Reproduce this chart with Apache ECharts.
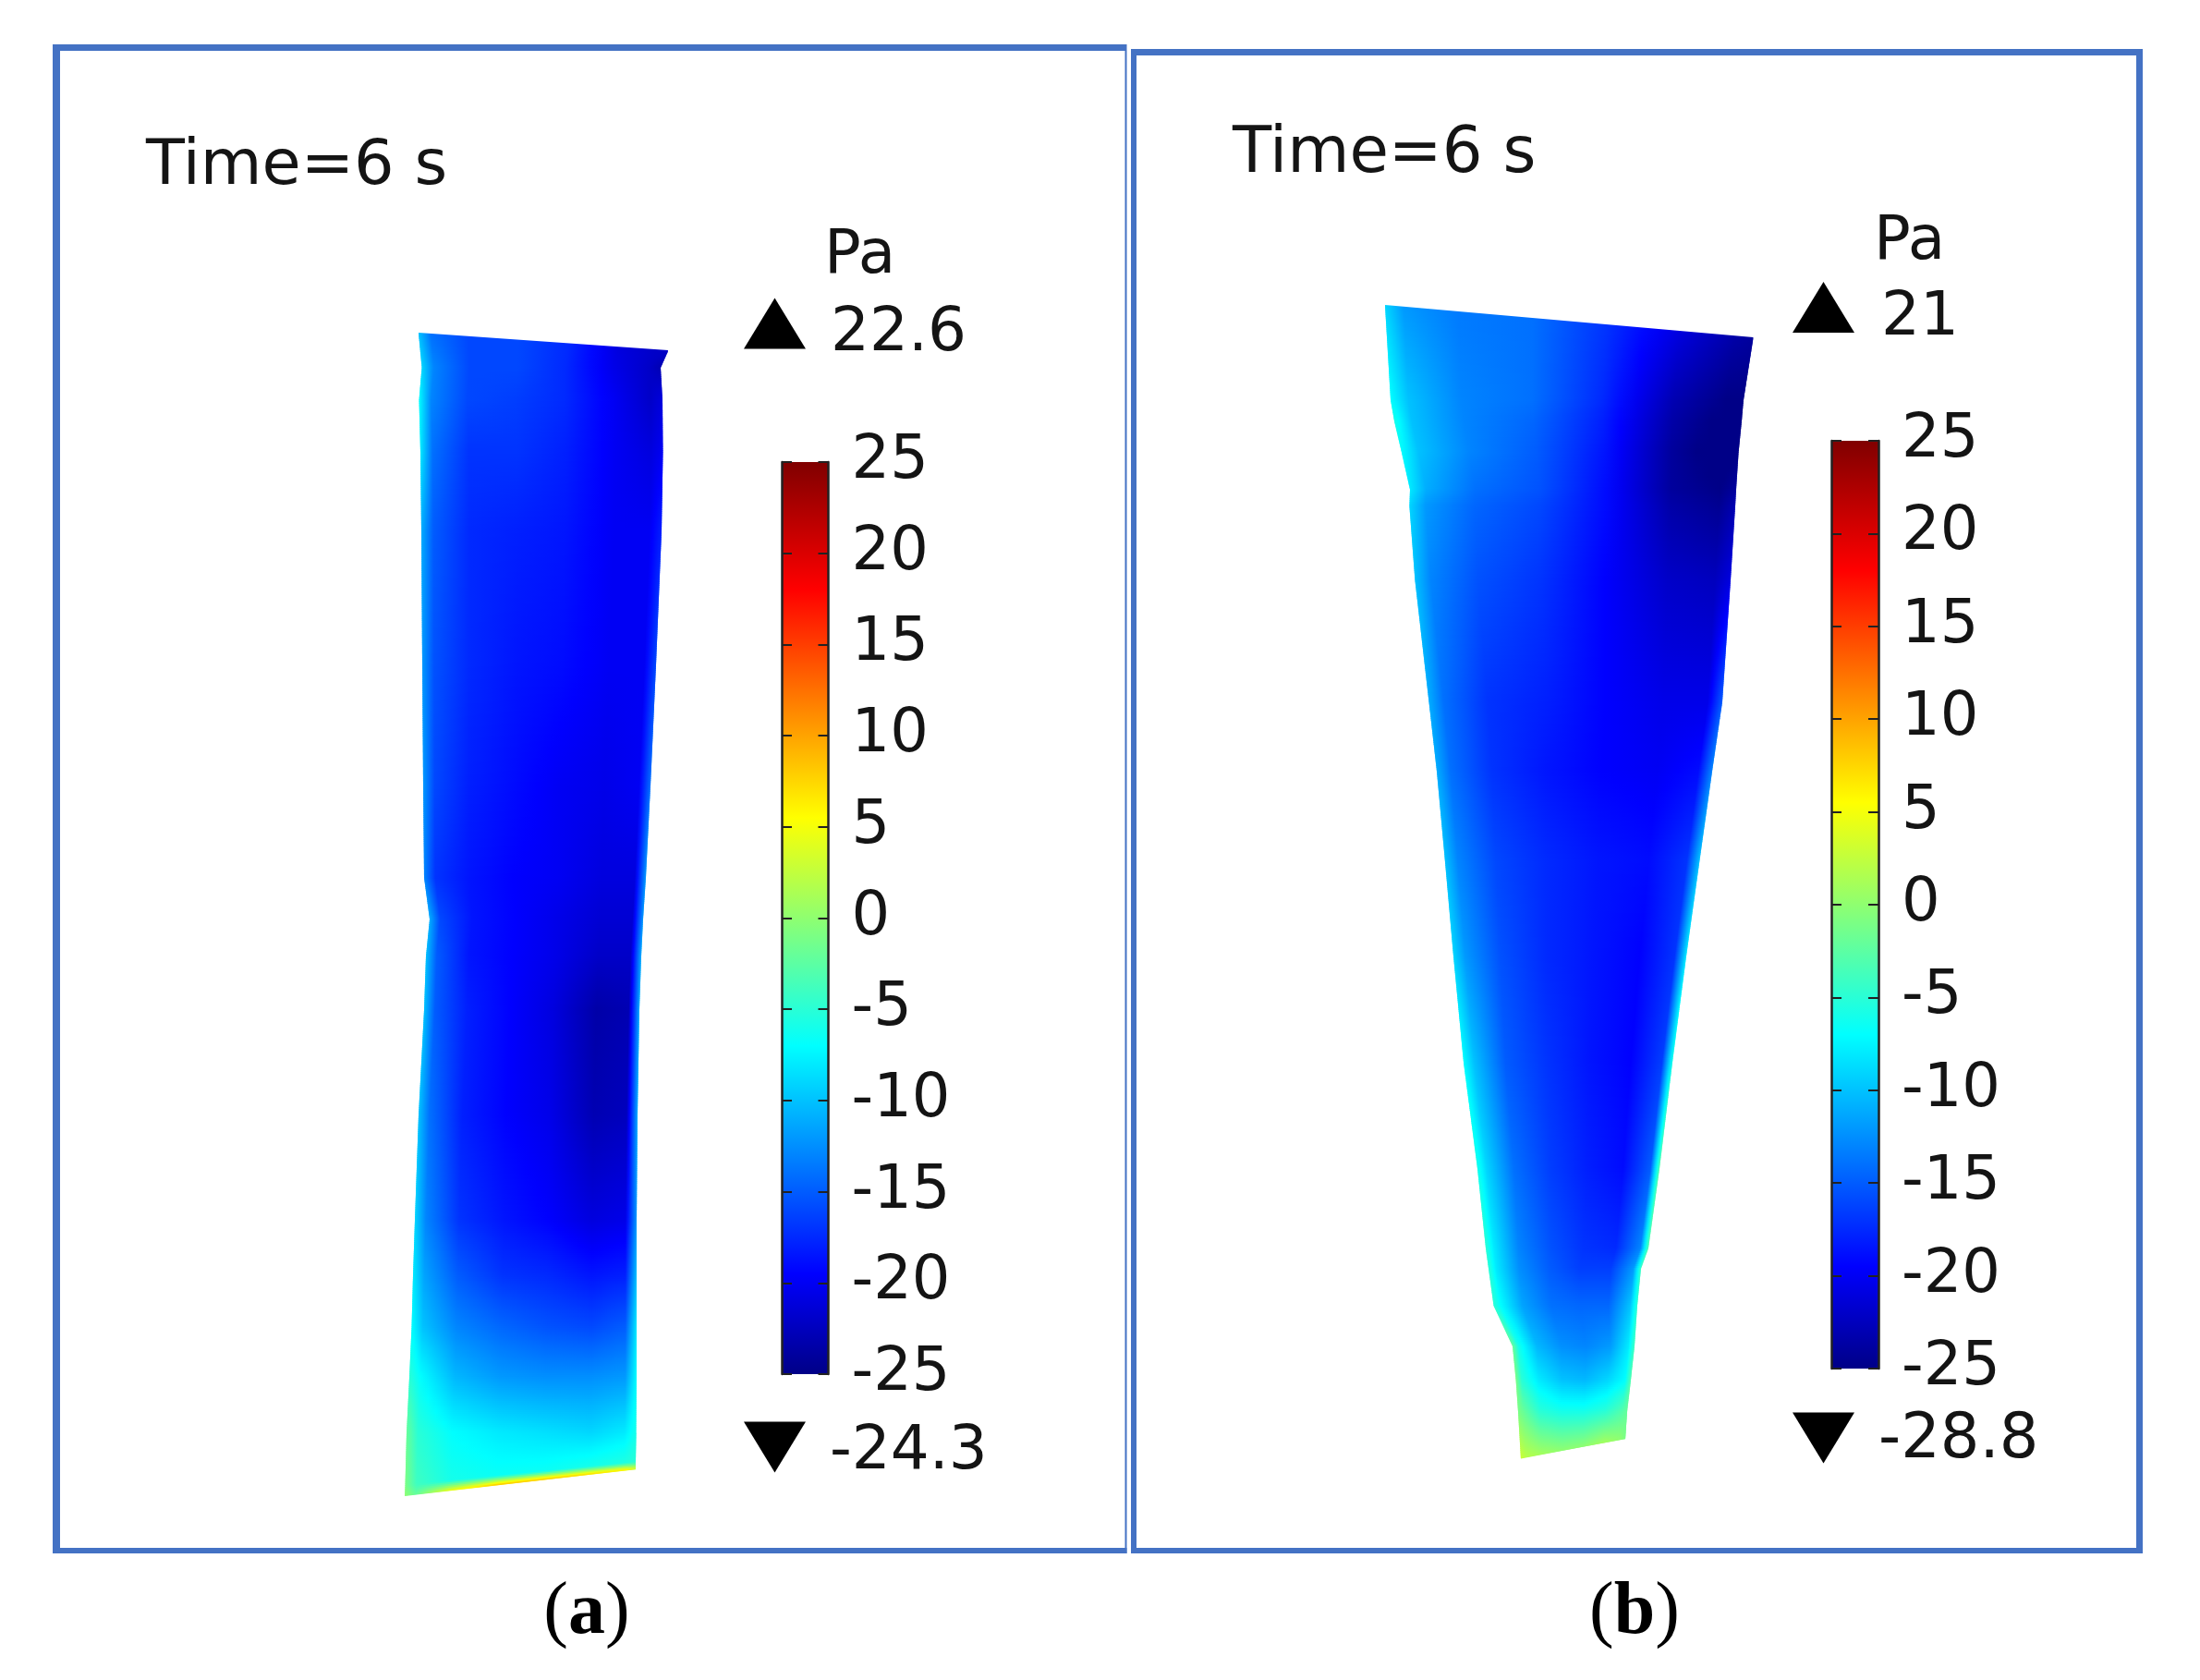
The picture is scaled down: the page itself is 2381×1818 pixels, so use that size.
<!DOCTYPE html>
<html>
<head>
<meta charset="utf-8">
<style>html,body{margin:0;padding:0;background:#fff}#c{width:2381px;height:1818px}</style>
<script src="https://cdn.jsdelivr.net/npm/echarts@6/dist/echarts.min.js"></script>
</head>
<body>
<div id="c"></div>
<script>
// ---------- DATA ----------
const colorbarTicks = [-25, -20, -15, -10, -5, 0, 5, 10, 15, 20, 25];
const timeLabel = 'Time=6 s';
const unitLabel = 'Pa';
const maxLabelA = '22.6', minLabelA = '-24.3';
const maxLabelB = '21', minLabelB = '-28.8';

// Rainbow colour table of the pressure scale: Pa, r, g, b
const rainbowPa = [-25, -19.5, -7, 5.5, 18, 25];
const rainbowRgb = [[0,0,135],[0,0,255],[0,255,255],[255,255,0],[255,0,0],[128,0,0]];

// Where the sampled values sit across each section of the surface (0 = left edge, 1 = right edge)
const acrossFractions = [0, .05, .2, .4, .6, .8, .95, 1];

// Surface (a): section outline as [left y, left x, right y, right x]
const surfaceAEdges = [
  [360,453,379,723],[397,456.5,397,715],[432,453.5,432,717],[489,455,489,717.5],[575,456,575,716],
  [719,457,719,710],[850,458,850,704],[949,459,949,699],[994,465,994,696],[1034,461,1034,694],
  [1092,459,1092,692],[1206,453,1206,690],[1320,449,1320,689],[1380,447,1380,689],[1435,445.5,1435,689],
  [1490,443,1490,689],[1550,440,1550,688.5],[1607,438.5,1582,688],[1619,438,1590,688]
];
// Surface (a): pressure in Pa at acrossFractions, one row per section
const surfaceAValues = [
  [-10,-14,-16,-16,-17.5,-21,-22,-22],
  [-9,-13,-16,-16,-17.5,-20.5,-22,-23],
  [-7,-13,-16,-16.5,-17.5,-20,-22,-21],
  [-8,-14,-17,-17,-18,-20,-21,-20],
  [-11,-15,-17.5,-18,-18.5,-20,-20,-18],
  [-12,-15.5,-17.5,-18.5,-19,-20,-20,-16],
  [-12,-16,-18,-19,-20,-20.5,-20,-14],
  [-13,-17,-18.5,-19.5,-20,-21,-21,-12],
  [-11,-16,-18.5,-19.5,-20.5,-21.5,-21.5,-12],
  [-10,-15,-18.5,-19.5,-20.5,-22,-22,-11],
  [-10,-15,-18,-19.5,-21,-23.5,-23,-11],
  [-10,-14,-18,-19.5,-20.5,-23,-22.5,-11],
  [-9,-13,-17,-18.5,-19.5,-21,-20.5,-12],
  [-8,-11.5,-15,-17,-17.5,-18.5,-18,-10],
  [-7,-10,-13,-14.5,-15.5,-16,-15,-8],
  [-5,-7,-10.5,-12,-12.5,-12.5,-12,-7],
  [-2,-5,-7,-8,-8.5,-9,-8,-6],
  [-1,-4,-6,-6.5,-6.5,-6,-5.5,-5],
  [0,-2,5,9,9,8,7,4]
];

// Surface (b)
const surfaceBEdges = [
  [330,1499,365,1897.5],[432,1505,432,1887],[455,1509,455,1885],[489,1517,489,1881.6],[529,1526,529,1879],
  [547,1525.4,547,1878],[627,1531.4,627,1873],[759,1546.5,759,1864],[834,1555,834,1853],[930,1563.8,930,1839.5],
  [1034,1573,1034,1825],[1149,1584,1149,1810],[1264,1599,1264,1796],[1350,1608,1350,1784],[1372,1611,1372,1776],
  [1412,1616.5,1412,1772],[1456,1637,1456,1769],[1493,1640.6,1493,1765],[1527,1643,1527,1761],[1578.6,1646,1557,1759]
];
const surfaceBValues = [
  [-9,-12,-13.5,-14,-17,-21,-23.5,-24],
  [-7,-10,-13,-14,-17.5,-23,-25,-25],
  [-6,-10,-13,-14.5,-18,-23.5,-25.5,-26],
  [-7,-10,-13,-15,-18.5,-24,-26,-25],
  [-8,-11,-14,-15.5,-19,-24,-25,-24],
  [-9,-12,-14.5,-16,-19,-23.5,-24.5,-23],
  [-10,-13,-15.5,-17,-19.5,-22,-22.5,-21],
  [-11,-14,-17,-18,-19.5,-20.5,-20.5,-15],
  [-11,-14,-17,-18.5,-19.5,-20,-19,-13],
  [-10,-13,-16,-17.5,-18.5,-19,-17,-10],
  [-9,-12,-15.5,-17.5,-18.5,-19.5,-17,-8],
  [-7,-10,-15,-17,-18.5,-19.5,-16.5,-6],
  [-6,-9,-14,-16.5,-18,-19,-15,-3],
  [-5,-8,-13,-15.5,-17,-17.5,-13,-3],
  [-5,-8,-12.5,-15,-16.5,-16.5,-12,-4],
  [-5,-7,-11.5,-14,-14.5,-14.5,-10,-5],
  [-2,-6,-10.5,-12.5,-13,-12,-8,-4],
  [-1,-5,-8,-10,-10.5,-9,-7,-3],
  [-1,-2,-5,-6,-6,-5,-3,-2],
  [3,2,1,0,0,1,0,-1]
];

// ---------- LAYOUT ----------
const W = 2381, H = 1818;
const frameBlue = '#4472c4';
const frames = [
  [57,48,1219,55],[57,48,65,1681],[1217.5,48,1219.5,1681],[57,1675,1219.5,1681],
  [1224,53,2319,60],[1224,53,1230,1681],[2312,53,2319,1681],[1224,1675,2319,1681]
];
const texts = [
  {t:timeLabel, x:158, y:181, s:68.5}, {t:unitLabel, x:892, y:278, s:66},
  {t:maxLabelA, x:899, y:362, s:66}, {t:minLabelA, x:898, y:1572, s:66},
  {t:timeLabel, x:1334, y:168, s:69}, {t:unitLabel, x:2028, y:263, s:66},
  {t:maxLabelB, x:2036, y:345, s:66}, {t:minLabelB, x:2033, y:1560, s:67}
];
const captions = [{t:'{r|(}{b|a}{r|)}', x:635, y:1746}, {t:'{r|(}{b|b}{r|)}', x:1769, y:1746}];
const upMarks = [[838.5,350],[1973.5,332.5]];
const downMarks = [[838.5,1566],[1973.5,1556]];

// ---------- COLOUR ----------
function rainbow(v){
  const p = rainbowPa;
  if (v <= p[0]) return 'rgb(' + rainbowRgb[0].join(',') + ')';
  for (let i = 1; i < p.length; i++) {
    if (v <= p[i]) {
      const f = (v - p[i-1]) / (p[i] - p[i-1]);
      const a = rainbowRgb[i-1], b = rainbowRgb[i];
      return 'rgb(' + a.map((c,k) => Math.round(c + (b[k]-c)*f)).join(',') + ')';
    }
  }
  return 'rgb(' + rainbowRgb[rainbowRgb.length-1].join(',') + ')';
}
function lerp(a,b,f){ return a + (b-a)*f; }

// Gouraud-style shading of one mesh section: thin slices with a horizontal gradient
function surfaceRender(edges, values){
  return function(params, api){
    const i = api.value(0);
    const e0 = edges[i], e1 = edges[i+1], v0 = values[i], v1 = values[i+1];
    const n = Math.max(1, Math.ceil(Math.max(Math.abs(e1[0]-e0[0]), Math.abs(e1[2]-e0[2])) / 2));
    const last = i === edges.length - 2;
    const children = [];
    for (let s = 0; s < n; s++) {
      const f0 = s/n, f1 = (s+1)/n;
      const fm = (f0+f1)/2;
      const over = (last && s === n-1) ? 0 : 1.5;
      const tl = api.coord([lerp(e0[1],e1[1],f0), lerp(e0[0],e1[0],f0)]);
      const tr = api.coord([lerp(e0[3],e1[3],f0), lerp(e0[2],e1[2],f0)]);
      const br = api.coord([lerp(e0[3],e1[3],f1), lerp(e0[2],e1[2],f1)+over]);
      const bl = api.coord([lerp(e0[1],e1[1],f1), lerp(e0[0],e1[0],f1)+over]);
      const stops = [];
      const fr = acrossFractions;
      for (let c = 0; c < fr.length-1; c++) {
        const a = lerp(v0[c], v1[c], fm), b = lerp(v0[c+1], v1[c+1], fm);
        for (let k = 0; k < 4; k++) {
          stops.push({offset: lerp(fr[c], fr[c+1], k/4), color: rainbow(lerp(a,b,k/4))});
        }
      }
      stops.push({offset: 1, color: rainbow(lerp(v0[fr.length-1], v1[fr.length-1], fm))});
      children.push({
        type:'polygon',
        shape:{points:[tl,tr,br,bl]},
        style:{fill:{type:'linear', global:true, x:Math.min(tl[0],bl[0]), y:0, x2:Math.max(tr[0],br[0]), y2:0, colorStops:stops}}
      });
    }
    return {type:'group', children};
  };
}
function surfaceSeries(edges, values){
  return {type:'custom', coordinateSystem:'cartesian2d', xAxisIndex:0, yAxisIndex:0, silent:true, clip:false,
    animation:false, z:3, encode:{x:0,y:0}, data: edges.slice(1).map((_,i)=>[i]), renderItem: surfaceRender(edges, values)};
}
function colorbarSeries(xIdx, yIdx){
  const lo = colorbarTicks[0], hi = colorbarTicks[colorbarTicks.length-1];
  return {type:'custom', coordinateSystem:'cartesian2d', xAxisIndex:xIdx, yAxisIndex:yIdx, silent:true, clip:false, animation:false, z:2,
    data:[[0,lo,1,hi]], encode:{x:[0,2],y:[1,3]},
    renderItem(p, api){
      const a = api.coord([api.value(0), api.value(3)]);
      const b = api.coord([api.value(2), api.value(1)]);
      const stops = rainbowPa.map((v) => ({offset:(hi-v)/(hi-lo), color:rainbow(v)})).reverse();
      return {type:'rect', shape:{x:a[0], y:a[1], width:b[0]-a[0], height:b[1]-a[1]},
        style:{fill:{type:'linear', x:0, y:0, x2:0, y2:1, colorStops:stops}}};
    }};
}
function colorAxis(grid, pos, labels){
  return {type:'value', gridIndex:grid, position:pos, min:-25, max:25, interval:5, z:5,
    axisLine:{show:true, onZero:false, lineStyle:{color:'#222', width:2.5}},
    axisTick:{show:true, inside:true, length:11, lineStyle:{color:'#222', width:2}},
    splitLine:{show:false},
    axisLabel:{show:labels, margin:25, color:'#141414', fontFamily:'DejaVu Sans', fontSize:65.5, align:'left', hideOverlap:false, padding:[12,0,0,0]}};
}
const hiddenX = (g,mn,mx) => ({type:'value', gridIndex:g, min:mn, max:mx, show:false});

const option = {
  backgroundColor:'#ffffff',
  animation:false,
  grid:[
    {left:0, top:0, width:W, height:H},
    {left:846, top:500, width:50.5, height:987},
    {left:1982, top:477, width:51, height:1004}
  ],
  xAxis:[hiddenX(0,0,W), hiddenX(1,0,1), hiddenX(2,0,1)],
  yAxis:[
    {type:'value', gridIndex:0, min:0, max:H, inverse:true, show:false},
    colorAxis(1,'right',true), colorAxis(1,'left',false),
    colorAxis(2,'right',true), colorAxis(2,'left',false)
  ],
  series:[
    {type:'custom', coordinateSystem:'cartesian2d', xAxisIndex:0, yAxisIndex:0, silent:true, clip:false, animation:false, z:1,
      data:frames, encode:{x:[0,2],y:[1,3]},
      renderItem(p, api){
        const a = api.coord([api.value(0), api.value(1)]), b = api.coord([api.value(2), api.value(3)]);
        return {type:'rect', shape:{x:a[0], y:a[1], width:b[0]-a[0], height:b[1]-a[1]}, style:{fill:frameBlue}};
      }},
    surfaceSeries(surfaceAEdges, surfaceAValues),
    surfaceSeries(surfaceBEdges, surfaceBValues),
    colorbarSeries(1,1),
    colorbarSeries(2,3),
    {type:'scatter', xAxisIndex:0, yAxisIndex:0, silent:true, symbol:'triangle', symbolSize:[67,55], itemStyle:{color:'#000', opacity:1}, data:upMarks, z:4},
    {type:'scatter', xAxisIndex:0, yAxisIndex:0, silent:true, symbol:'triangle', symbolRotate:180, symbolSize:[67,55], itemStyle:{color:'#000', opacity:1}, data:downMarks, z:4},
    {type:'custom', coordinateSystem:'cartesian2d', xAxisIndex:0, yAxisIndex:0, silent:true, clip:false, animation:false, z:5,
      data:texts.map((d,i)=>[d.x,d.y,i]), encode:{x:0,y:1},
      renderItem(p, api){
        const d = texts[api.value(2)], c = api.coord([api.value(0), api.value(1)]);
        return {type:'text', x:c[0], y:c[1], style:{text:d.t, fill:'#141414', font:d.s+'px "DejaVu Sans"', align:'left', verticalAlign:'middle'}};
      }},
    {type:'custom', coordinateSystem:'cartesian2d', xAxisIndex:0, yAxisIndex:0, silent:true, clip:false, animation:false, z:5,
      data:captions.map((d,i)=>[d.x,d.y,i]), encode:{x:0,y:1},
      renderItem(p, api){
        const d = captions[api.value(2)], c = api.coord([api.value(0), api.value(1)]);
        return {type:'text', x:c[0], y:c[1], style:{text:d.t, fill:'#000', align:'center', verticalAlign:'middle',
          rich:{r:{fontFamily:'Liberation Serif', fontSize:80, fontWeight:'normal', fill:'#000'}, b:{fontFamily:'Liberation Serif', fontSize:80, fontWeight:'bold', fill:'#000'}}}};
      }}
  ]
};
const chart = echarts.init(document.getElementById('c'), null, {renderer:'canvas', width:W, height:H});
chart.setOption(option);
</script>
</body>
</html>
